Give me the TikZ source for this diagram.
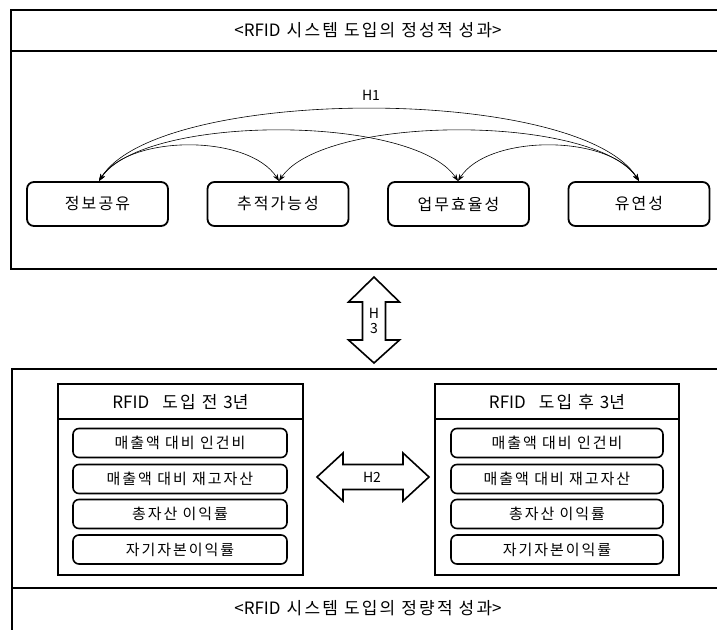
\documentclass[tikz,border=0pt]{standalone}
\usepackage{fontspec}
\setmainfont{Noto Sans CJK KR}[LetterSpace=13]
\newfontfamily\tightfont{Noto Sans CJK KR}
\newcommand{\lt}[1]{{\tightfont #1}}
\usetikzlibrary{arrows.meta,calc}
\begin{document}
\begin{tikzpicture}[x=1pt,y=-1pt,
  frame/.style={line width=1.8pt},
  topnode/.style={draw,line width=1.8pt,rounded corners=7pt,minimum width=141pt,minimum height=44pt,font=\fontsize{16}{18}\selectfont},
  listnode/.style={draw,line width=1.6pt,rounded corners=6pt,minimum width=214pt,minimum height=29pt,font=\fontsize{15}{17}\selectfont},
  headtxt/.style={font=\fontsize{17}{19}\selectfont},
  titletxt/.style={font=\fontsize{17}{19}\selectfont},
  htxt/.style={font=\fontsize{14}{16}\selectfont\tightfont},
  arc/.style={line width=0.6pt,{Stealth[length=7pt,width=5pt]}-{Stealth[length=7pt,width=5pt]}},
  bigarrow/.style={line width=1.6pt,fill=white,line join=miter}
]
\clip (0,0) rectangle (717,629);
\fill[white] (0,0) rectangle (717,629);
% top frame
\draw[frame] (11,10) rectangle (740,269);
\draw[frame] (11,51) -- (740,51);
\node[titletxt] (ttop) at (368,30) {\lt{<RFID} 시스템 도입의 정성적 성과\lt{>}};
% top nodes
\node[topnode] (n1) at (97.5,204) {정보공유};
\node[topnode] (n2) at (278,204) {추적가능성};
\node[topnode] (n3) at (458.5,204) {업무효율성};
\node[topnode] (n4) at (639,204) {유연성};
\coordinate (t1) at (99,181);
\coordinate (t2) at (279,181);
\coordinate (t3) at (458,181);
\coordinate (t4) at (639,181);
% arcs
\draw[arc] (t1) .. controls ($(t1)+(60,-96)$) and ($(t4)+(-60,-96)$) .. (t4);
\draw[arc] (t1) .. controls ($(t1)+(45,-67)$) and ($(t3)+(-45,-67)$) .. (t3);
\draw[arc] (t2) .. controls ($(t2)+(45,-67)$) and ($(t4)+(-45,-67)$) .. (t4);
\draw[arc] (t1) .. controls ($(t1)+(30,-47)$) and ($(t2)+(-30,-47)$) .. (t2);
\draw[arc] (t3) .. controls ($(t3)+(30,-47)$) and ($(t4)+(-30,-47)$) .. (t4);
\node[htxt] (h1) at (371,95) {H1};
% H3 arrow
\draw[bigarrow] (374,277) -- (399.5,302) -- (385.5,302) -- (385.5,340) -- (399.5,340) -- (374,363) -- (348.5,340) -- (362.5,340) -- (362.5,302) -- (348.5,302) -- cycle;
\node[htxt,align=center,inner sep=0pt] (h3) at (374,321) {H\\[-1pt]3};
% bottom frame
\draw[frame] (12,369) rectangle (740,660);
\draw[frame] (12,588) -- (740,588);
\node[titletxt] (tbot) at (368,608) {\lt{<RFID} 시스템 도입의 정량적 성과\lt{>}};
% left box
\draw[line width=1.6pt] (58,384) rectangle (303,575);
\draw[line width=1.6pt] (58,419) -- (303,419);
\node[headtxt] (lh) at (180.5,402) {\lt{RFID}\hspace{13pt}도입 전 \lt{3}년};
\node[listnode] (l1) at (180,443) {매출액 대비 인건비};
\node[listnode] (l2) at (180,479) {매출액 대비 재고자산};
\node[listnode] (l3) at (180,514) {총자산 이익률};
\node[listnode] (l4) at (180,549.5) {자기자본이익률};
% right box
\draw[line width=1.6pt] (435,384) rectangle (679,575);
\draw[line width=1.6pt] (435,419) -- (679,419);
\node[headtxt] (rh) at (557,402) {\lt{RFID}\hspace{13pt}도입 후 \lt{3}년};
\node[listnode,minimum width=212pt] (r1) at (557,443) {매출액 대비 인건비};
\node[listnode,minimum width=212pt] (r2) at (557,479) {매출액 대비 재고자산};
\node[listnode,minimum width=212pt] (r3) at (557,514) {총자산 이익률};
\node[listnode,minimum width=212pt] (r4) at (557,549.5) {자기자본이익률};
% H2 arrow
\draw[bigarrow] (317,477) -- (343,453) -- (343,464.5) -- (403,464.5) -- (403,453) -- (429,477) -- (403,501) -- (403,489.5) -- (343,489.5) -- (343,501) -- cycle;
\node[htxt] (h2) at (372,477) {H2};
\end{tikzpicture}
\end{document}
